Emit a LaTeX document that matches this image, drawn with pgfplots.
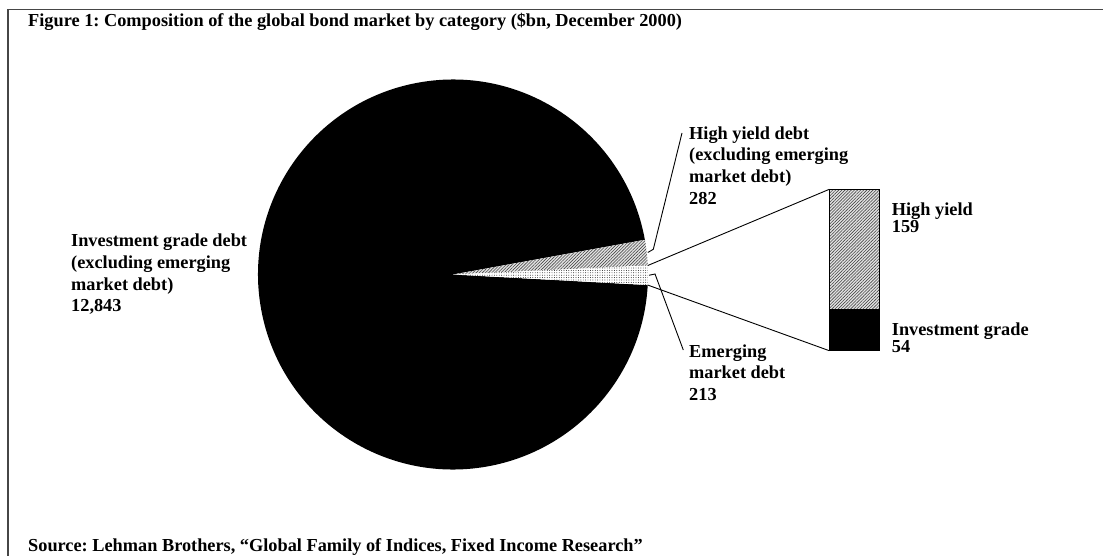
\documentclass[border=0pt]{standalone}
\usepackage{pgfplots}
\pgfplotsset{compat=1.18}
\usepackage{fontspec}
\setmainfont{Liberation Serif}
\usetikzlibrary{patterns.meta}
\frenchspacing
\begin{document}
\begin{tikzpicture}[x=1bp,y=1bp]
\useasboundingbox (0,0) rectangle (1103bp,556bp);
% data ($bn)
\def\vIG{12843}\def\vHY{282}\def\vEM{213}
\def\vEMhy{159}\def\vEMig{54}
\pgfmathsetmacro\tot{\vEM+\vHY+\vIG}
\pgfmathsetmacro\aA{-3.1}
\pgfmathsetmacro\aB{\aA+(\vEM/\tot)*360}
\pgfmathsetmacro\aC{\aB+(\vHY/\tot)*360}
\pgfmathsetmacro\aD{\aA+360}
\pgfmathsetmacro\aHYm{(\aB+\aC)/2}
\pgfmathsetmacro\aEMm{(\aA+\aB)/2}
\tikzset{lbl/.style={font=\fontsize{18.3bp}{21.7bp}\selectfont\bfseries, inner sep=0pt, align=left, text=black},
  hyfill/.style={fill=gray!22, postaction={pattern={Lines[angle=45,distance=2.2bp,line width=0.6bp]}, pattern color=gray!55!black}}}
\begin{axis}[at={(0bp,0bp)}, anchor=south west, scale only axis, width=1103bp, height=556bp,
  xmin=0, xmax=1103, ymin=0, ymax=556, y dir=reverse, hide axis, clip=false]
% frame
\draw[gray!55!black, line width=1.5bp] (axis cs:8,556) -- (axis cs:8,9.3) -- (axis cs:1103,9.3);
% pie
\fill[black] (axis cs:453,274.5) -- ++(\aC:195bp) arc[start angle=\aC, end angle=\aD, radius=195bp] -- cycle;
\fill[hyfill]
  (axis cs:453,274.5) -- ++(\aB:195bp) arc[start angle=\aB, end angle=\aC, radius=195bp] -- cycle;
\fill[white, postaction={pattern={Dots[distance=2.4bp,radius=0.45bp]}, pattern color=black}]
  (axis cs:453,274.5) -- ++(\aA:195bp) arc[start angle=\aA, end angle=\aB, radius=195bp] -- cycle;
% connectors to bar
\draw[black, line width=0.9bp] (axis cs:453,274.5) ++(\aB:195bp) -- (axis cs:829.3,189.3);
\draw[black, line width=0.9bp] (axis cs:453,274.5) ++(\aA:195bp) -- (axis cs:829.3,350.7);
% leader lines
\draw[black, line width=0.9bp] (axis cs:453,274.5) ++(\aHYm:196bp) -- (axis cs:653.3,249.3) -- (axis cs:682,133);
\draw[black, line width=0.9bp] (axis cs:453,274.5) ++(\aEMm:196bp) -- (axis cs:655,274) -- (axis cs:683.3,350);
% labels
\node[lbl, anchor=west] at (axis cs:71,274.5) {Investment grade debt\\(excluding emerging\\market debt)\\12,843};
\node[lbl, anchor=west] at (axis cs:689,165.5) {High yield debt\\(excluding emerging\\market debt)\\282};
\node[lbl, anchor=west] at (axis cs:689,372.5) {Emerging\\market debt\\213};
\node[lbl, anchor=west, font=\fontsize{18.3bp}{15.5bp}\selectfont\bfseries] at (axis cs:891.7,218) {High yield\\159};
\node[lbl, anchor=west, font=\fontsize{18.3bp}{15.5bp}\selectfont\bfseries] at (axis cs:891.7,338) {Investment grade\\54};
\node[lbl, anchor=base west] at (axis cs:28,27) {Figure 1: Composition of the global bond market by category (\$bn, December 2000)};
\node[lbl, anchor=base west] at (axis cs:28,551) {Source: Lehman Brothers, “Global Family of Indices, Fixed Income Research”};
\end{axis}
% bar of the emerging market debt split
\begin{axis}[at={(829.3bp,205.3bp)}, anchor=south west, scale only axis, width=50bp, height=161.4bp,
  hide axis, xmin=-0.5, xmax=0.5, ymin=0, ymax=213, ybar stacked, bar width=50bp, clip=false]
\addplot[draw=black, line width=0.9bp, fill=black] coordinates {(0,\vEMig)};
\addplot[draw=black, line width=0.9bp, hyfill] coordinates {(0,\vEMhy)};
\end{axis}
\end{tikzpicture}
\end{document}
